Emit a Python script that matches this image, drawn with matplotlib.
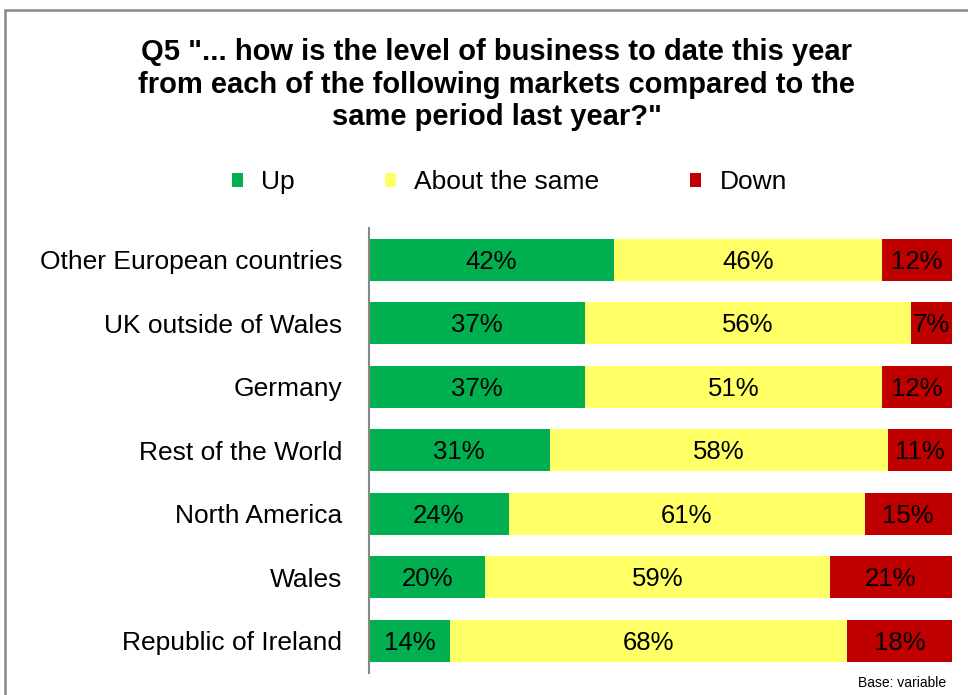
import matplotlib.pyplot as plt
from matplotlib.patches import Patch, Rectangle

plt.rcParams['font.family'] = ['Liberation Sans', 'DejaVu Sans']

# data
markets = ['Other European countries', 'UK outside of Wales', 'Germany',
           'Rest of the World', 'North America', 'Wales', 'Republic of Ireland']
up = [42, 37, 37, 31, 24, 20, 14]
same = [46, 56, 51, 58, 61, 59, 68]
down = [12, 7, 12, 11, 15, 21, 18]
series_names = ['Up', 'About the same', 'Down']
colors = ['#00B050', '#FFFF66', '#C00000']

fig = plt.figure(figsize=(9.68, 6.95), dpi=100)
ax = fig.add_axes([0.381, 0.032, 0.6025, 0.640])

ypos = list(range(len(markets)))
left = [0] * len(markets)
for vals, col in zip([up, same, down], colors):
    bars = ax.barh(ypos, vals, left=left, height=0.66, color=col, edgecolor='none')
    for b, v in zip(bars, vals):
        ax.text(b.get_x() + b.get_width() / 2, b.get_y() + b.get_height() / 2 + 0.03,
                f'{v}%', ha='center', va='center', fontsize=18.5, color='black')
    left = [l + v for l, v in zip(left, vals)]

ax.set_xlim(0, 100)
ax.set_ylim(len(markets) - 0.5, -0.5)
ax.set_yticks(ypos)
ax.set_yticklabels(markets, fontsize=19)
ax.tick_params(axis='y', length=0, pad=19)
ax.set_xticks([])
for s in ['top', 'right', 'bottom']:
    ax.spines[s].set_visible(False)
ax.spines['left'].set_color('#888888')
ax.spines['left'].set_linewidth(1.5)

# title
fig.text(0.513, 0.878, 'Q5 "... how is the level of business to date this year\n'
         'from each of the following markets compared to the\nsame period last year?"',
         ha='center', va='center', fontsize=21, fontweight='bold', linespacing=1.2)

# legend
handles = [Patch(facecolor=c, edgecolor='none') for c in colors]
fig.legend(handles, series_names, loc='center', bbox_to_anchor=(0.526, 0.738),
           ncol=3, frameon=False, fontsize=19, handlelength=0.42, handleheight=0.42,
           handletextpad=0.68, columnspacing=3.45)

fig.text(0.977, 0.017, 'Base: variable', ha='right', va='center', fontsize=10)

# outer frame
fig.patches.append(Rectangle((0.005, -0.1), 1.1, 1.0856, transform=fig.transFigure,
                             fill=False, edgecolor='#888888', linewidth=1.8))

fig.savefig('out.png', dpi=100)
